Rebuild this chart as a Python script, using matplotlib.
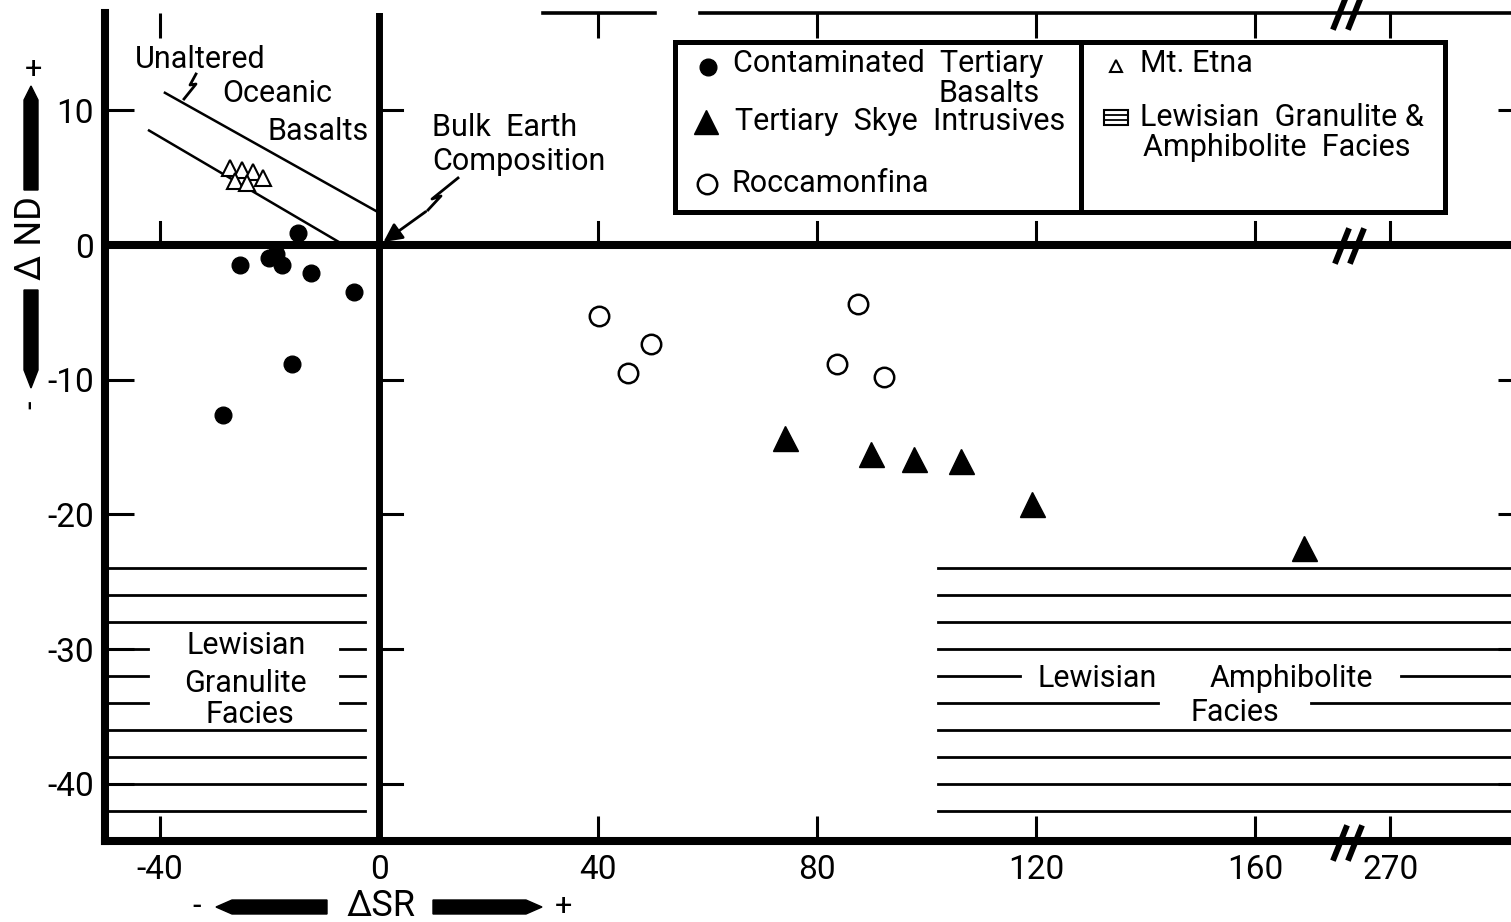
import matplotlib
matplotlib.use("Agg")
import matplotlib.pyplot as plt
from matplotlib.patches import Rectangle, Polygon
from matplotlib.lines import Line2D

plt.rcParams['font.family'] = ['Roboto', 'DejaVu Sans']

# ---- data ----
cont_x = [-14.8, -25.4, -20.1, -18.8, -17.7, -12.4, -4.6, -15.9, -28.5]
cont_y = [0.9, -1.5, -1.0, -0.7, -1.5, -2.1, -3.5, -8.8, -12.6]

skye_x = [74.2, 89.9, 97.7, 106.3, 119.3, 168.9]
skye_y = [-14.3, -15.5, -15.9, -16.0, -19.2, -22.5]

rocca_x = [40.2, 49.7, 45.5, 87.5, 83.7, 92.2]
rocca_y = [-5.3, -7.35, -9.5, -4.4, -8.8, -9.8]

etna_x = [-27.2, -25.0, -23.0, -21.2, -26.3, -24.1]
etna_y = [5.7, 5.6, 5.4, 5.0, 4.75, 4.6]

# unaltered oceanic basalts band (two bounding lines)
oib_upper_x = [-39.1, 0.0]
oib_upper_y = [11.3, 2.4]
oib_lower_x = [-42.0, -6.4]
oib_lower_y = [8.5, 0.0]

# Lewisian fields
hatch_levels = [-24, -26, -28, -30, -32, -34, -36, -38, -40, -42]
gran_x = [-50.0, -2.6]
gran_gaps = {-30: (-42.2, -7.1), -32: (-42.2, -7.1), -34: (-42.2, -7.1)}
amph_x = [102.1, 215.0]
amph_gaps = {-32: (117.1, 186.7), -34: (142.3, 170.2)}

xtick_vals = [-40, 0, 40, 80, 120, 160, 270]
ytick_vals = [10, 0, -10, -20, -30, -40]

# ---- layout ----
W, H = 1511, 922
X0, SX = 379, 5.475     # pixel of x=0, pixels per unit
Y0, SY = 245, 13.47
X_SHIFT = 270 - 184.7   # axis break between 160 and 270


def xpos(v):
    return v if v < 200 else v - X_SHIFT


def fx(px):
    return px / W


def fy(py):
    return 1 - py / H


fig = plt.figure(figsize=(W / 100, H / 100), dpi=100)
left_px, right_px, top_px, bot_px = 105, 1527, 13, 841
ax = fig.add_axes([fx(left_px), fy(bot_px), (right_px - left_px) / W, (bot_px - top_px) / H])
xmin, xmax = (left_px - X0) / SX, (right_px - X0) / SX
ymin, ymax = -(bot_px - Y0) / SY, (Y0 - top_px) / SY
ax.set_xlim(xmin, xmax)
ax.set_ylim(ymin, ymax)

for s in ['top', 'right']:
    ax.spines[s].set_visible(False)
for s in ['left', 'bottom']:
    ax.spines[s].set_linewidth(5.8)

ax.axhline(0, color='k', lw=5.8, zorder=3)
ax.axvline(0, color='k', lw=5.0, zorder=3)

# partial top frame line
ax.plot([29.95, 50.4], [ymax, ymax], color='k', lw=2.6, clip_on=False)
ax.plot([58.6, xmax], [ymax, ymax], color='k', lw=2.6, clip_on=False)

ax.set_xticks([xpos(v) for v in xtick_vals])
ax.set_xticklabels([str(v) for v in xtick_vals])
ax.set_yticks(ytick_vals)
ax.set_yticklabels([str(v) for v in ytick_vals])
ax.tick_params(axis='x', direction='in', length=18, width=2.2, top=True, bottom=True,
               labelsize=24, pad=9)
ax.tick_params(axis='y', direction='in', length=21, width=2.2, left=True, right=True,
               labelsize=24, pad=8)

# ticks along the zero lines
for v in xtick_vals:
    if v != 0:
        ax.plot([xpos(v), xpos(v)], [0, 23 / SY], color='k', lw=2.2, zorder=3)
for v in ytick_vals:
    if v != 0:
        ax.plot([0, 23 / SX], [v, v], color='k', lw=2.2, zorder=3)

# hatched Lewisian fields
for lev in hatch_levels:
    if lev in gran_gaps:
        g0, g1 = gran_gaps[lev]
        ax.plot([gran_x[0], g0], [lev, lev], color='k', lw=2.0)
        ax.plot([g1, gran_x[1]], [lev, lev], color='k', lw=2.0)
    else:
        ax.plot(gran_x, [lev, lev], color='k', lw=2.0)
    if lev in amph_gaps:
        g0, g1 = amph_gaps[lev]
        ax.plot([amph_x[0], g0], [lev, lev], color='k', lw=2.0)
        ax.plot([g1, amph_x[1]], [lev, lev], color='k', lw=2.0)
    else:
        ax.plot(amph_x, [lev, lev], color='k', lw=2.0)

# oceanic basalt band
ax.plot(oib_upper_x, oib_upper_y, color='k', lw=1.8)
ax.plot(oib_lower_x, oib_lower_y, color='k', lw=1.8)

# data points
ax.plot(cont_x, cont_y, 'o', ms=12, color='k', ls='none', zorder=5)
ax.plot(skye_x, skye_y, '^', ms=18, color='k', ls='none', zorder=5)
ax.plot(rocca_x, rocca_y, 'o', ms=14, mfc='white', mec='k', mew=1.8, ls='none', zorder=5)
ax.plot(etna_x, etna_y, '^', ms=11, mfc='white', mec='k', mew=1.5, ls='none', zorder=5)

# bulk earth arrow with squiggle
sq = [(458, 178), (432, 199), (441, 196), (428, 210)]
fig.add_artist(Line2D([fx(p[0]) for p in sq], [fy(p[1]) for p in sq], color='k', lw=2))
ax.annotate('', xy=(0.4, 0.1), xycoords='data',
            xytext=(fx(428), fy(210)), textcoords='figure fraction',
            arrowprops=dict(arrowstyle='-|>', lw=2, color='k', mutation_scale=28))

# unaltered squiggle
sq2 = [(196, 74), (190, 85), (196, 84), (184, 99)]
fig.add_artist(Line2D([fx(p[0]) for p in sq2], [fy(p[1]) for p in sq2], color='k', lw=2))

FS = 22
fig.text(fx(135), fy(60), 'Unaltered', fontsize=FS, va='center')
fig.text(fx(222), fy(94), 'Oceanic', fontsize=FS, va='center')
fig.text(fx(268), fy(132), 'Basalts', fontsize=FS, va='center')
fig.text(fx(432), fy(127), 'Bulk  Earth', fontsize=FS, va='center')
fig.text(fx(432), fy(162), 'Composition', fontsize=FS, va='center')

fig.text(fx(246), fy(645), 'Lewisian', fontsize=FS, va='center', ha='center')
fig.text(fx(245), fy(683), 'Granulite', fontsize=FS, va='center', ha='center')
fig.text(fx(250), fy(714), 'Facies', fontsize=FS, va='center', ha='center')
fig.text(fx(1097), fy(678), 'Lewisian', fontsize=FS, va='center', ha='center')
fig.text(fx(1291), fy(678), 'Amphibolite', fontsize=FS, va='center', ha='center')
fig.text(fx(1235), fy(712), 'Facies', fontsize=FS, va='center', ha='center')

# axis break marks
for cx, cy in [(1340, 843), (1342, 246), (1340, 12)]:
    for dx in (0, 15):
        fig.add_artist(Line2D([fx(cx + dx - 6), fx(cx + dx + 6)], [fy(cy + 15), fy(cy - 15)],
                              color='k', lw=4.2))

# legend box
fig.add_artist(Rectangle((fx(675), fy(212)), (1445 - 675) / W, (212 - 42) / H,
                         transform=fig.transFigure, fc='white', ec='k', lw=3.6, zorder=6))
fig.add_artist(Line2D([fx(1081), fx(1081)], [fy(42), fy(212)], color='k', lw=3.6, zorder=7))
fig.add_artist(Line2D([fx(708)], [fy(67)], marker='o', ms=12, color='k', ls='none', zorder=7))
fig.add_artist(Line2D([fx(706)], [fy(122)], marker='^', ms=17, color='k', ls='none', zorder=7))
fig.add_artist(Line2D([fx(707)], [fy(184)], marker='o', ms=14, mfc='white', mec='k', mew=1.8,
                      ls='none', zorder=7))
fig.add_artist(Line2D([fx(1116)], [fy(66)], marker='^', ms=9, mfc='white', mec='k', mew=1.5,
                      ls='none', zorder=7))
fig.add_artist(Rectangle((fx(1104), fy(125)), 24 / W, 15 / H, transform=fig.transFigure,
                         fc='white', ec='k', lw=1.5, zorder=7))
for yy in (115, 120):
    fig.add_artist(Line2D([fx(1104), fx(1128)], [fy(yy), fy(yy)], color='k', lw=1.3, zorder=8))

lg = dict(fontsize=FS, va='center', zorder=8)
fig.text(fx(733), fy(64), 'Contaminated  Tertiary', **lg)
fig.text(fx(1040), fy(94), 'Basalts', ha='right', **lg)
fig.text(fx(735), fy(122), 'Tertiary  Skye  Intrusives', **lg)
fig.text(fx(731), fy(184), 'Roccamonfina', **lg)
fig.text(fx(1140), fy(64), 'Mt. Etna', **lg)
fig.text(fx(1140), fy(117), 'Lewisian  Granulite &', **lg)
fig.text(fx(1143), fy(148), 'Amphibolite  Facies', **lg)

# axis titles with arrow bars
fig.text(fx(31), fy(238), '\u0394 ND', rotation=90, fontsize=26, ha='center', va='center')
fig.text(fx(33), fy(70), '+', fontsize=22, ha='center', va='center')
fig.text(fx(31), fy(405), '-', rotation=90, fontsize=22, ha='center', va='center')
fig.add_artist(Polygon([(fx(24), fy(190)), (fx(24), fy(100)), (fx(31), fy(86)),
                        (fx(38), fy(100)), (fx(38), fy(190))], closed=True,
                       transform=fig.transFigure, fc='k', ec='k'))
fig.add_artist(Polygon([(fx(24), fy(290)), (fx(24), fy(370)), (fx(31), fy(388)),
                        (fx(38), fy(370)), (fx(38), fy(290))], closed=True,
                       transform=fig.transFigure, fc='k', ec='k'))

fig.text(fx(381), fy(906), '\u0394SR', fontsize=26, ha='center', va='center')
fig.text(fx(197), fy(906), '-', fontsize=22, ha='center', va='center')
fig.text(fx(563), fy(906), '+', fontsize=22, ha='center', va='center')
fig.add_artist(Polygon([(fx(327), fy(900)), (fx(232), fy(900)), (fx(216), fy(907)),
                        (fx(232), fy(914)), (fx(327), fy(914))], closed=True,
                       transform=fig.transFigure, fc='k', ec='k'))
fig.add_artist(Polygon([(fx(433), fy(900)), (fx(526), fy(900)), (fx(542), fy(907)),
                        (fx(526), fy(914)), (fx(433), fy(914))], closed=True,
                       transform=fig.transFigure, fc='k', ec='k'))

fig.savefig('out.png', dpi=100)
